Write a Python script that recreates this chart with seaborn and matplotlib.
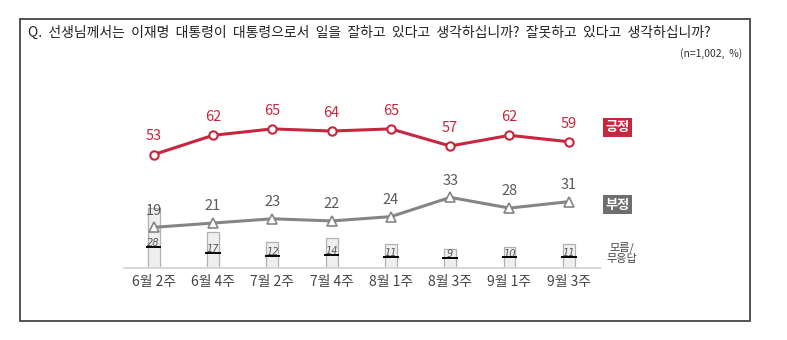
import numpy as np
import pandas as pd
import matplotlib
matplotlib.use("Agg")
import matplotlib.pyplot as plt
from matplotlib.patches import Rectangle
import seaborn as sns

# ---- data ----
weeks = ["6월 2주", "6월 4주", "7월 2주", "7월 4주", "8월 1주", "8월 3주", "9월 1주", "9월 3주"]
positive = [53, 62, 65, 64, 65, 57, 62, 59]
negative = [19, 21, 23, 22, 24, 33, 28, 31]
dontknow = [28, 17, 12, 14, 11, 9, 10, 11]
title_text = "Q.  선생님께서는  이재명  대통령이  대통령으로서  일을  잘하고  있다고  생각하십니까?  잘못하고  있다고  생각하십니까?"
note_text = "(n=1,002,  %)"

sns.set_theme(style="white")
plt.rcParams["font.family"] = ["Noto Sans CJK KR", "DejaVu Sans"]

W, H = 787, 340
fig = plt.figure(figsize=(W / 100, H / 100), dpi=100)

RED = "#c8263d"
GRAY = "#858585"
BOXGRAY = "#6e6e6e"

# axes placement in pixels
left_px, right_px = 124, 600
bot_px, top_px = 268, 100
ax = fig.add_axes([left_px / W, 1 - bot_px / H, (right_px - left_px) / W, (bot_px - top_px) / H])
scale = 2.14  # px per unit
ax.set_ylim(0, (bot_px - top_px) / scale)
x = np.arange(len(weeks))
spacing = 59.3
ax.set_xlim(-(153.7 - left_px) / spacing, (right_px - 153.7) / spacing)

df = pd.DataFrame({"x": x, "week": weeks, "pos": positive, "neg": negative, "dk": dontknow})

sns.barplot(data=df, x="x", y="dk", native_scale=True, width=0.2, color="#efefef",
            edgecolor="#b0b0b0", linewidth=0.9, ax=ax, saturation=1)

for xi, v in zip(x, dontknow):
    ly = 2.2 + v * 0.28
    ax.text(xi, ly - 0.6, str(v), ha="center", va="bottom", fontsize=7, style="italic",
            color="#555555", family="DejaVu Sans")
    ax.hlines(ly, xi - 0.13, xi + 0.13, color="black", lw=1.4, zorder=5)

sns.lineplot(data=df, x="x", y="pos", color=RED, lw=2.2, marker="o", markersize=6,
             markerfacecolor="white", markeredgecolor=RED, markeredgewidth=1.5, sort=False, ax=ax)
sns.lineplot(data=df, x="x", y="neg", color=GRAY, lw=2.2, marker="^", markersize=6.5,
             markerfacecolor="white", markeredgecolor=GRAY, markeredgewidth=1.2, sort=False, ax=ax)

for xi, v in zip(x, positive):
    ax.annotate(str(v), (xi, v), xytext=(0, 8), textcoords="offset points", ha="center",
                va="bottom", fontsize=10.5, color=RED, fontweight="medium")
for xi, v in zip(x, negative):
    ax.annotate(str(v), (xi, v), xytext=(0, 7), textcoords="offset points", ha="center",
                va="bottom", fontsize=10.5, color="#5a5a5a", fontweight="medium")

# axis cosmetics
for s in ["top", "right", "left"]:
    ax.spines[s].set_visible(False)
ax.spines["bottom"].set_color("#d8d8d8")
ax.spines["bottom"].set_linewidth(1.5)
ax.set_yticks([])
ax.set_xticks(x)
ax.set_xticklabels(weeks, fontsize=10, color="#444444")
ax.tick_params(axis="x", length=0, pad=5)
ax.set_xlabel("")
ax.set_ylabel("")
ax.patch.set_alpha(0)
ax.grid(False)

# frame
fig.patches.append(Rectangle((20 / W, 1 - 321 / H), (750 - 20) / W, (321 - 19) / H,
                             transform=fig.transFigure, fill=False, edgecolor="#444444", lw=1.3))

fig.text(28 / W, 1 - 33 / H, title_text, ha="left", va="center", fontsize=10, color="#222222")
fig.text(742 / W, 1 - 54 / H, note_text, ha="right", va="center", fontsize=7.5, color="#333333")

# legend labels
fig.text(617.5 / W, 1 - 127.5 / H, "긍정", ha="center", va="center", fontsize=9.5, color="white",
         fontweight="bold", bbox=dict(boxstyle="square,pad=0.2", fc=RED, ec="none"))
fig.text(617.5 / W, 1 - 204.5 / H, "부정", ha="center", va="center", fontsize=9.5, color="white",
         fontweight="bold", bbox=dict(boxstyle="square,pad=0.2", fc=BOXGRAY, ec="none"))
fig.text(622 / W, 1 - 253 / H, "모름/\n무응답", ha="center", va="center", fontsize=8,
         color="#444444", linespacing=1.1)

fig.savefig("out.png", dpi=100)
